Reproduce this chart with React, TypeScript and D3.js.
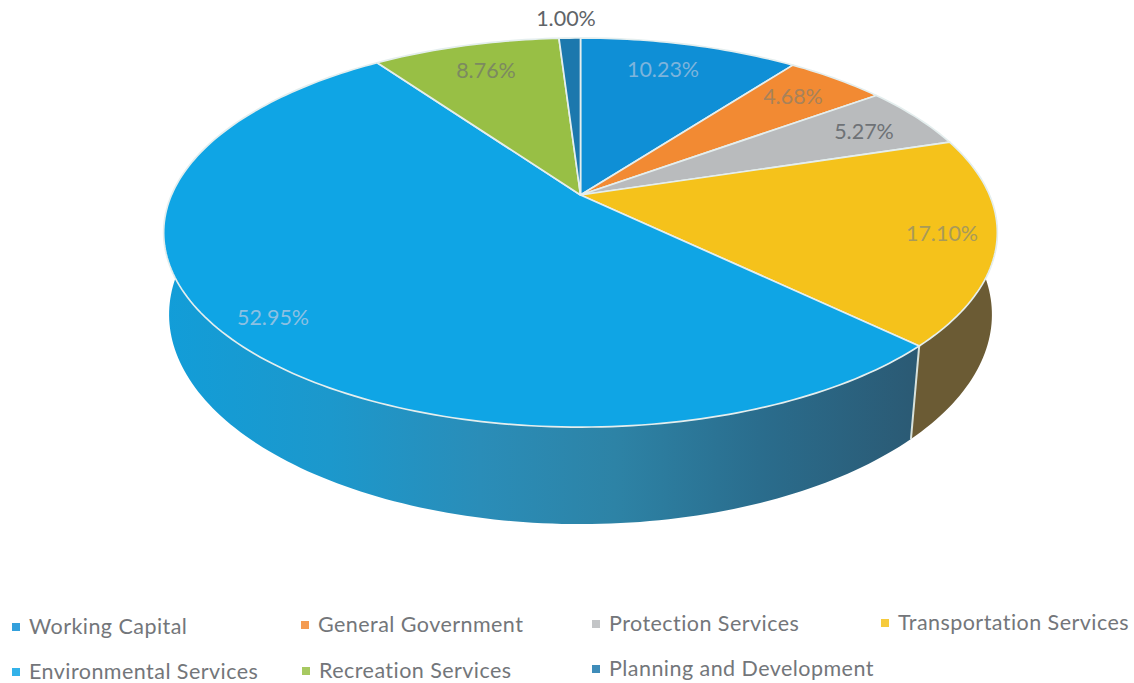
import React, { useMemo } from "react";
import * as d3 from "d3";

const categories = [
  "Working Capital",
  "General Government",
  "Protection Services",
  "Transportation Services",
  "Environmental Services",
  "Recreation Services",
  "Planning and Development",
];
const shares = [10.23, 4.68, 5.27, 17.1, 52.95, 8.76, 1.0];
const shareLabels = ["10.23%", "4.68%", "5.27%", "17.10%", "52.95%", "8.76%", "1.00%"];
const topColors = ["#0f8fd6", "#f28a33", "#b9bbbd", "#f5c21b", "#0fa5e5", "#98bf45", "#1c78ad"];
const labelColors = ["#7db4dc", "#a8825a", "#6e7276", "#a89a5a", "#8cc0e2", "#7c8a60", "#5f6468"];
const labelPositions = [
  [663, 72],
  [793, 99],
  [864, 134],
  [942, 236],
  [273, 320],
  [486, 73],
  [566, 21],
];
const legendPositions = [
  [16, 629],
  [305, 627],
  [596, 626],
  [885, 625],
  [16, 674],
  [306, 673],
  [596, 671],
];

// The disc is a circle seen in perspective: this maps unit-circle points to the page.
const CX = 580.5;
const CY = 195;
const PERSP = -0.193;
function project(angle: number, depth: number) {
  const u = Math.sin(angle);
  const v = -Math.cos(angle);
  const w = 1 + PERSP * v;
  const shrink = 1 - (0.009 + 0.022 * v) * depth;
  return [
    CX + (409 * u * shrink) / w,
    CY + (187.3 * v) / w + depth * (84 + 13 * v),
  ] as [number, number];
}

const line = d3.line();

function rim(a0: number, a1: number, depth: number) {
  const n = Math.max(2, Math.ceil(Math.abs(a1 - a0) / 0.02));
  return d3.range(n + 1).map((i) => project(a0 + ((a1 - a0) * i) / n, depth));
}

export default function App() {
  const arcs = useMemo(
    () => d3.pie<number>().sort(null).value((d) => d)(shares),
    []
  );
  const rightAngle = Math.PI / 2;
  const leftAngle = (3 * Math.PI) / 2;
  const envArc = arcs[4];
  const transArc = arcs[3];

  // Wall segments run a little past the silhouette; the top face hides the excess.
  const sideEnv = [
    ...rim(envArc.startAngle, leftAngle + 0.3, 0),
    ...rim(leftAngle + 0.3, envArc.startAngle, 1),
  ];
  const sideTrans = [
    ...rim(rightAngle - 0.3, transArc.endAngle, 0),
    ...rim(transArc.endAngle, rightAngle - 0.3, 1),
  ];

  return (
    <svg
      width={1134}
      height={683}
      style={{ position: "absolute", left: 0, top: 0, background: "#fff" }}
      fontFamily="Lato, 'Open Sans', sans-serif"
    >
      <defs>
        <linearGradient id="envSide" gradientUnits="userSpaceOnUse" x1={165} x2={915} y1={0} y2={0}>
          <stop offset="0" stopColor="#129dd8" />
          <stop offset="0.22" stopColor="#1c98cc" />
          <stop offset="0.42" stopColor="#2a8db8" />
          <stop offset="0.6" stopColor="#2d83a6" />
          <stop offset="0.8" stopColor="#2a6c8c" />
          <stop offset="1" stopColor="#2b5a74" />
        </linearGradient>
      </defs>

      <path d={line(sideEnv) + "Z"} fill="url(#envSide)" />
      <path d={line(sideTrans) + "Z"} fill="#6b5b34" />
      <path
        d={line([project(envArc.startAngle, 0), project(envArc.startAngle, 1)])!}
        stroke="#d8e2dc"
        strokeWidth={2}
        fill="none"
      />

      {arcs.map((a, i) => (
        <path
          key={categories[i]}
          d={line([[CX, CY], ...rim(a.startAngle, a.endAngle, 0)]) + "Z"}
          fill={topColors[i]}
          stroke="#e4eeee"
          strokeWidth={1.7}
          strokeLinejoin="round"
        />
      ))}

      {shareLabels.map((t, i) => (
        <text
          key={t}
          x={labelPositions[i][0]}
          y={labelPositions[i][1]}
          textAnchor="middle"
          dominantBaseline="middle"
          fontSize={21.5}
          fill={labelColors[i]}
        >
          {t}
        </text>
      ))}

      {categories.map((c, i) => (
        <g key={c} transform={`translate(${legendPositions[i][0]},${legendPositions[i][1]})`}>
          <rect x={-4} y={-6} width={8} height={8} fill={topColors[i]} opacity={0.85} />
          <text x={13} y={0} dominantBaseline="middle" fontSize={21.5} letterSpacing={0.45} fill="#73767a">
            {c}
          </text>
        </g>
      ))}
    </svg>
  );
}
